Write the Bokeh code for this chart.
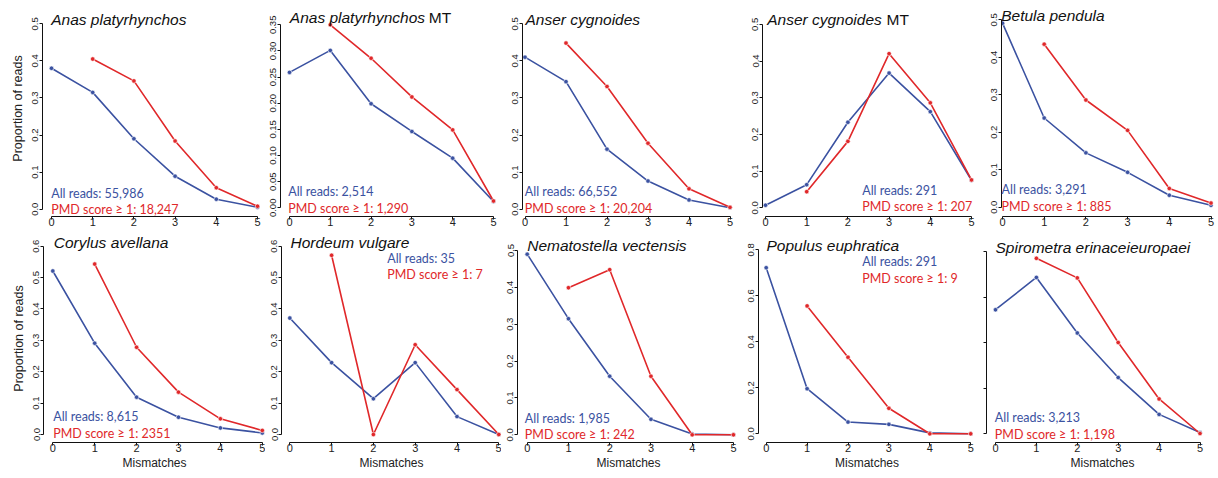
from bokeh.plotting import figure
from bokeh.layouts import row, column
from bokeh.models import Range1d, FixedTicker, PrintfTickFormatter, CustomJSTickFormatter, Label
from bokeh.embed import file_html
from bokeh.resources import INLINE

# ---------------------------------------------------------------- data
mismatches = [0, 1, 2, 3, 4, 5]
pmd_mismatches = [1, 2, 3, 4, 5]

species = [
    "Anas platyrhynchos", "Anas platyrhynchos", "Anser cygnoides", "Anser cygnoides",
    "Betula pendula", "Corylus avellana", "Hordeum vulgare", "Nematostella vectensis",
    "Populus euphratica", "Spirometra erinaceieuropaei",
]
suffix = ["", "MT", "", "MT", "", "", "", "", "", ""]

all_reads_text = ["55,986", "2,514", "66,552", "291", "3,291",
                  "8,615", "35", "1,985", "291", "3,213"]
pmd_reads_text = ["18,247", "1,290", "20,204", "207", "885",
                  "2351", "7", "242", "9", "1,198"]

# proportion of reads per mismatch count, all reads (0..5 mismatches)
all_anas = [0.380, 0.315, 0.190, 0.089, 0.027, 0.005]
all_anas_mt = [0.259, 0.301, 0.199, 0.146, 0.095, 0.012]
all_anser = [0.410, 0.344, 0.162, 0.076, 0.025, 0.004]
all_anser_mt = [0.007, 0.063, 0.233, 0.367, 0.262, 0.075]
all_betula = [0.491, 0.238, 0.145, 0.093, 0.032, 0.005]
all_corylus = [0.521, 0.291, 0.119, 0.055, 0.021, 0.005]
all_hordeum = [0.371, 0.229, 0.114, 0.229, 0.057, 0.0]
all_nematostella = [0.490, 0.315, 0.159, 0.042, 0.002, 0.0]
all_populus = [0.722, 0.196, 0.051, 0.041, 0.004, 0.0]
all_spirometra = [0.272, 0.343, 0.221, 0.123, 0.042, 0.002]

# proportion of reads with PMD score >= 1 (1..5 mismatches)
pmd_anas = [0.405, 0.346, 0.184, 0.058, 0.008]
pmd_anas_mt = [0.350, 0.286, 0.212, 0.149, 0.013]
pmd_anser = [0.448, 0.331, 0.178, 0.055, 0.005]
pmd_anser_mt = [0.044, 0.181, 0.420, 0.286, 0.076]
pmd_betula = [0.435, 0.286, 0.205, 0.050, 0.011]
pmd_corylus = [0.543, 0.278, 0.135, 0.050, 0.013]
pmd_hordeum = [0.571, 0.0, 0.286, 0.143, 0.0]
pmd_nematostella = [0.399, 0.448, 0.159, 0.0, 0.0]
pmd_populus = [0.556, 0.333, 0.111, 0.0, 0.0]
pmd_spirometra = [0.385, 0.342, 0.200, 0.076, 0.0]

all_series = [all_anas, all_anas_mt, all_anser, all_anser_mt, all_betula,
              all_corylus, all_hordeum, all_nematostella, all_populus, all_spirometra]
pmd_series = [pmd_anas, pmd_anas_mt, pmd_anser, pmd_anser_mt, pmd_betula,
              pmd_corylus, pmd_hordeum, pmd_nematostella, pmd_populus, pmd_spirometra]

# y-axis extent, tick step and tick format per panel
y_max = [0.5, 0.35, 0.5, 0.5, 0.5, 0.6, 0.6, 0.5, 0.8, 0.4]
y_step = [0.1, 0.05, 0.1, 0.1, 0.1, 0.1, 0.1, 0.1, 0.2, 0.1]
y_fmt = ["%.1f", "%.2f", "%.1f", "%.1f", "%.1f", "%.1f", "%.1f", "%.1f", "%.1f", None]

# ---------------------------------------------------------------- layout (pixels)
BLUE = "#3b52a1"
RED = "#e0282a"
AXIS_FONT = "Liberation Sans"
NOTE_FONT = "Lato"
TEXT_LIFT = 4.0   # labels render slightly below their anchor; lift them back

ROWS = [
    dict(top=0, height=234, bottom=18),
    dict(top=234, height=244, bottom=36),
]

# fig_left, fig_right, axis_x, x0, px per mismatch, y0, y-top pixel,
# title (left, baseline), MT left, legend (left, baseline1, baseline2)
GEOM = [
    dict(r=0, fl=0, fr=261, ax=42, x0=51, sx=41.2, y0=208.7, yt=23.3,
         title=(50.7, 23.3), mt=None, leg=(50.7, 197.3, 213.3)),
    dict(r=0, fl=261, fr=500, ax=280, x0=289, sx=40.8, y0=207.3, yt=24.3,
         title=(289.3, 20.7), mt=428.3, leg=(287.7, 195, 211.7)),
    dict(r=0, fl=500, fr=740, ax=522, x0=524.5, sx=41.0, y0=208.7, yt=23.3,
         title=(525, 22.7), mt=None, leg=(524.3, 195, 211.7)),
    dict(r=0, fl=740, fr=975, ax=762, x0=765, sx=41.2, y0=207.3, yt=23.8,
         title=(766.7, 22.7), mt=886, leg=(861.7, 194, 210)),
    dict(r=0, fl=975, fr=1218, ax=1001, x0=1002, sx=41.7, y0=206.7, yt=19.3,
         title=(1000.7, 19.3), mt=None, leg=(1001, 193.3, 210)),
    dict(r=1, fl=0, fr=265, ax=43, x0=52.3, sx=41.9, y0=434, yt=245.7,
         title=(53.3, 246), mt=None, leg=(52.7, 420, 436.7)),
    dict(r=1, fl=265, fr=501, ax=281, x0=289.3, sx=41.8, y0=434, yt=245.7,
         title=(290, 245.5), mt=None, leg=(386.7, 261.7, 278.3)),
    dict(r=1, fl=501, fr=739, ax=517, x0=526.7, sx=41.25, y0=434.3, yt=250,
         title=(526.7, 249.3), mt=None, leg=(524.3, 421.7, 438.3)),
    dict(r=1, fl=739, fr=975, ax=758, x0=765.7, sx=40.9, y0=433.3, yt=249.3,
         title=(766, 249.3), mt=None, leg=(861.7, 265, 281.7)),
    dict(r=1, fl=975, fr=1218, ax=986, x0=995, sx=40.9, y0=433, yt=251,
         title=(995, 251), mt=None, leg=(994.3, 421, 437.7)),
]


def make_panel(k):
    g = GEOM[k]
    rw = ROWS[g["r"]]
    top = rw["top"]
    axis_y = top + rw["height"] - rw["bottom"]
    sy = (g["y0"] - g["yt"]) / y_max[k]
    sx = g["sx"]

    def dx(px):
        return (px - g["x0"]) / sx

    def dy(py):
        return (g["y0"] - py) / sy

    def ty_(py):
        return dy(py - TEXT_LIFT)

    p = figure(
        width=g["fr"] - g["fl"], height=rw["height"],
        x_range=Range1d(dx(g["ax"]), dx(g["fr"])),
        y_range=Range1d(dy(axis_y), dy(top)),
        output_backend="svg", toolbar_location=None,
        min_border_left=g["ax"] - g["fl"], min_border_right=0,
        min_border_top=0, min_border_bottom=rw["bottom"],
        background_fill_color="white", border_fill_color="white",
    )
    p.outline_line_color = None
    p.grid.visible = False

    xa = p.xaxis[0]
    xa.bounds = (0, 5)
    xa.ticker = FixedTicker(ticks=mismatches)
    xa.major_tick_out = 3
    xa.major_tick_in = 0
    xa.minor_tick_line_color = None
    xa.axis_line_color = "#111111"
    xa.major_tick_line_color = "#111111"
    xa.major_label_standoff = -2
    xa.major_label_text_font = AXIS_FONT
    xa.major_label_text_font_size = "11px"
    xa.major_label_text_color = "#222222"
    if g["r"] == 1:
        xa.axis_label = "Mismatches"
        xa.axis_label_standoff = 1
        xa.axis_label_text_font = AXIS_FONT
        xa.axis_label_text_font_size = "12px"
        xa.axis_label_text_font_style = "normal"
        xa.axis_label_text_color = "#222222"

    ya = p.yaxis[0]
    n = int(round(y_max[k] / y_step[k]))
    ya.bounds = (0, y_max[k])
    ya.ticker = FixedTicker(ticks=[round(i * y_step[k], 3) for i in range(n + 1)])
    ya.major_tick_out = 3
    ya.major_tick_in = 0
    ya.minor_tick_line_color = None
    ya.axis_line_color = "#111111"
    ya.major_tick_line_color = "#111111"
    ya.major_label_standoff = 1
    ya.major_label_orientation = "vertical"
    ya.major_label_text_font = AXIS_FONT
    ya.major_label_text_font_size = "9.5px"
    ya.major_label_text_color = "#222222"
    if y_fmt[k] is None:
        ya.formatter = CustomJSTickFormatter(code="return ''")
    else:
        ya.formatter = PrintfTickFormatter(format=y_fmt[k])
    if g["fl"] == 0:
        ya.axis_label = "Proportion of reads"
        ya.axis_label_standoff = 5
        ya.axis_label_text_font = AXIS_FONT
        ya.axis_label_text_font_size = "12.5px"
        ya.axis_label_text_font_style = "normal"
        ya.axis_label_text_color = "#222222"

    # series: all reads (blue) and PMD-filtered reads (red)
    p.line(mismatches, all_series[k], line_color=BLUE, line_width=1.6)
    p.scatter(mismatches, all_series[k], size=4.5, fill_color=BLUE,
              line_color="white", line_width=0.6)
    p.line(pmd_mismatches, pmd_series[k], line_color=RED, line_width=1.6)
    p.scatter(pmd_mismatches, pmd_series[k], size=4.5, fill_color=RED,
              line_color="white", line_width=0.6)

    # panel title
    tx, tb = g["title"]
    p.add_layout(Label(x=dx(tx), y=ty_(tb), text=species[k], text_font=AXIS_FONT,
                       text_font_style="italic", text_font_size="15.5px",
                       text_color="#111111", text_baseline="alphabetic"))
    if suffix[k]:
        p.add_layout(Label(x=dx(g["mt"]), y=ty_(tb), text=suffix[k], text_font=AXIS_FONT,
                           text_font_size="15.5px", text_color="#111111",
                           text_baseline="alphabetic"))

    # read counts
    lx, b1, b2 = g["leg"]
    p.add_layout(Label(x=dx(lx), y=ty_(b1), text="All reads: " + all_reads_text[k],
                       text_font=NOTE_FONT, text_font_size="12.5px", text_color=BLUE,
                       text_baseline="alphabetic"))
    p.add_layout(Label(x=dx(lx), y=ty_(b2), text="PMD score \u2265 1: " + pmd_reads_text[k],
                       text_font=NOTE_FONT, text_font_size="12.5px", text_color=RED,
                       text_baseline="alphabetic"))
    return p


panels = [make_panel(k) for k in range(10)]
layout = column(row(*panels[:5], spacing=0), row(*panels[5:], spacing=0), spacing=0)

open("out.html", "w").write(file_html(layout, INLINE))
